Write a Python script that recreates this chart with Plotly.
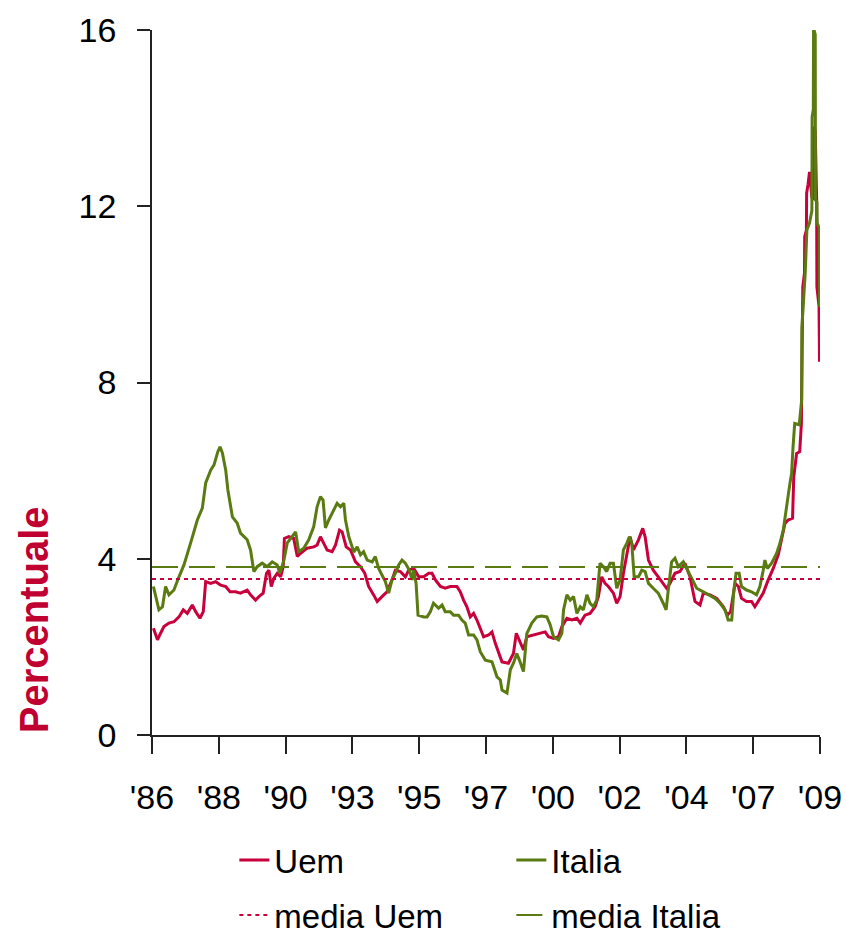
import plotly.graph_objects as go

# months since Jan 1986 (category axis in original: one tick every 28 months)
tick_months = [0, 28, 56, 84, 112, 140, 168, 196, 224, 252, 280]
tick_labels = ["'86", "'88", "'90", "'93", "'95", "'97", "'00", "'02", "'04", "'07", "'09"]

ita_m = [0.6,2.9,4.4,5.7,7.1,9.2,11.3,13.4,16.2,19.0,21.1,22.5,24.6,26.0,27.6,28.5,29.5,30.9,31.8,33.7,35.7,37.1,39.9,41.3,42.7,44.1,46.2,48.3,50.4,52.5,53.6,55.3,56.7,58.8,60.2,61.5,63.6,65.7,67.8,69.2,70.6,71.7,72.7,74.1,75.5,77.6,79.0,80.4,81.1,82.5,84.6,86.0,87.4,88.7,90.2,92.3,93.6,95.0,96.4,97.8,99.2,100.6,102.0,103.4,104.8,106.2,107.9,109.0,109.7,110.7,111.5,113.9,115.3,116.7,118.0,120.1,121.6,122.9,125.0,126.4,128.5,129.9,131.3,132.7,134.8,136.2,137.6,139.7,142.5,144.6,146.0,146.7,148.8,150.2,151.5,152.9,154.0,155.7,157.1,159.2,161.3,163.4,165.5,166.9,168.3,170.4,171.8,172.5,173.9,175.3,176.7,178.1,179.5,180.8,182.3,183.6,185.0,186.4,187.8,189.2,190.6,192.0,193.4,194.8,196.2,197.6,199.0,200.1,201.1,202.1,203.9,205.3,206.7,208.1,210.1,212.2,214.3,215.5,216.4,217.8,219.2,220.6,222.7,224.1,226.2,228.3,231.1,233.2,236.0,238.1,240.2,241.5,243.0,243.9,244.8,246.1,247.1,249.2,251.3,253.4,254.8,256.2,256.9,257.9,259.7,261.8,263.2,264.6,265.3,266.6,267.4,268.1,268.7,269.4,271.3,272.3,272.4,273.1,273.8,274.5,275.6,276.6,276.7,277.2,277.3,278.0,278.1,278.7,278.8,279.7,279.8]
ita_v = [3.37,2.84,2.91,3.37,3.18,3.29,3.59,3.86,4.36,4.88,5.15,5.72,6.01,6.13,6.43,6.54,6.40,6.01,5.56,4.95,4.81,4.58,4.43,4.20,3.71,3.82,3.90,3.82,3.93,3.86,3.67,3.97,4.36,4.50,4.61,4.16,4.24,4.43,4.73,5.18,5.41,5.33,4.70,4.88,5.03,5.26,5.18,5.26,4.88,4.50,4.15,4.27,4.09,4.16,3.97,3.93,4.05,3.78,3.63,3.48,3.22,3.52,3.67,3.86,3.97,3.90,3.74,3.52,3.74,3.44,2.72,2.68,2.68,2.80,2.99,2.88,2.95,2.80,2.80,2.72,2.72,2.61,2.54,2.27,2.27,2.16,1.89,1.70,1.66,1.32,1.25,1.02,0.95,1.48,1.63,1.85,1.70,1.44,2.30,2.54,2.68,2.70,2.68,2.50,2.23,2.16,2.31,2.84,3.18,3.06,3.14,2.76,2.91,2.84,3.18,2.99,2.91,3.06,3.90,3.82,3.71,3.90,3.90,3.33,3.52,4.20,4.35,4.50,4.35,3.59,3.59,3.74,3.71,3.44,3.33,3.22,2.99,2.84,3.29,3.93,4.01,3.82,3.93,3.78,3.52,3.33,3.25,3.18,3.10,2.99,2.84,2.61,2.61,3.29,3.67,3.67,3.37,3.29,3.25,3.18,3.37,3.74,3.97,3.78,3.90,4.12,4.35,4.65,4.88,5.41,5.71,5.94,6.54,7.07,7.04,7.60,9.24,9.84,10.48,11.46,11.62,11.90,14.03,14.20,16.04,15.90,12.14,12.10,11.62,11.50,9.72]

uem_m = [0.6,2.3,3.6,5.0,7.1,9.2,11.3,13.1,14.8,16.9,18.3,20.1,21.5,22.5,24.6,26.7,28.8,30.9,32.7,35.0,37.1,39.9,41.3,43.4,44.8,46.6,48.0,49.0,50.0,51.1,52.5,53.9,55.0,55.5,57.3,59.4,60.9,62.2,65.0,67.8,69.2,70.6,72.0,73.4,75.5,76.9,78.6,79.7,81.4,83.2,85.3,87.4,89.2,90.8,92.9,94.4,96.4,98.5,100.6,102.0,104.1,106.2,107.6,109.7,111.8,113.9,116.0,117.4,118.8,120.9,122.9,125.0,127.8,129.2,130.6,132.0,133.4,134.8,136.2,137.6,139.0,141.1,142.5,143.9,145.3,146.7,149.4,151.5,152.7,154.0,155.7,157.1,159.9,162.7,164.8,166.2,168.3,170.4,171.8,173.9,176.0,178.1,179.5,181.5,183.6,185.7,187.1,188.5,189.9,191.3,193.4,194.8,196.2,197.6,199.0,200.4,201.8,203.9,205.7,206.7,208.1,210.1,212.2,214.3,215.7,217.1,219.2,221.3,223.4,225.5,227.6,229.7,231.1,233.9,236.7,239.5,241.2,242.5,244.4,245.8,247.1,249.2,251.3,252.7,254.1,256.2,258.3,260.4,262.5,263.9,265.3,266.6,268.5,269.0,270.2,271.5,272.2,272.6,272.8,273.5,273.6,274.3,274.4,275.0,275.6,276.6,277.0,277.1,278.0,278.6,278.7,279.6,279.8]
uem_v = [2.42,2.16,2.31,2.46,2.54,2.57,2.68,2.84,2.76,2.95,2.80,2.65,2.80,3.48,3.44,3.48,3.40,3.37,3.25,3.25,3.22,3.29,3.18,3.06,3.14,3.22,3.67,3.74,3.37,3.56,3.67,3.59,3.82,4.46,4.50,4.46,4.05,4.12,4.24,4.27,4.31,4.50,4.35,4.20,4.16,4.31,4.65,4.61,4.27,4.20,3.93,3.82,3.67,3.37,3.18,3.03,3.14,3.25,3.52,3.74,3.71,3.59,3.74,3.78,3.59,3.59,3.67,3.67,3.52,3.37,3.33,3.37,3.37,3.25,3.06,2.91,2.68,2.76,2.61,2.42,2.23,2.27,2.34,2.08,1.85,1.66,1.63,1.85,2.31,2.16,1.93,2.23,2.27,2.31,2.34,2.23,2.19,2.23,2.46,2.65,2.61,2.65,2.54,2.72,2.76,2.91,3.14,3.59,3.44,3.37,3.22,2.99,3.14,3.67,4.05,4.50,4.20,4.43,4.69,4.50,3.97,3.74,3.59,3.44,3.33,3.44,3.67,3.71,3.90,3.59,3.03,2.95,3.22,3.18,3.10,2.91,2.72,2.80,3.44,3.37,3.10,3.03,3.03,2.91,3.03,3.22,3.52,3.78,4.09,4.43,4.80,4.88,4.92,5.86,6.39,6.43,7.07,9.20,10.17,10.48,11.31,11.46,12.30,12.50,12.78,12.20,12.14,13.80,13.70,12.14,10.17,9.72,8.47]

media_uem = 3.54
media_italia = 3.81
mean_span = [0, 280]

assert len(ita_m) == len(ita_v), (len(ita_m), len(ita_v))
assert len(uem_m) == len(uem_v), (len(uem_m), len(uem_v))

RED = "#C8003C"
GREEN = "#5A7A12"
FONT = "Liberation Sans, Arial, sans-serif"

fig = go.Figure()
fig.add_trace(go.Scatter(x=uem_m, y=uem_v, mode="lines", name="Uem", legend="legend",
                         line=dict(color=RED, width=3)))
fig.add_trace(go.Scatter(x=ita_m, y=ita_v, mode="lines", name="Italia", legend="legend",
                         line=dict(color=GREEN, width=3)))
fig.add_trace(go.Scatter(x=mean_span, y=[media_uem, media_uem], mode="lines", name="media Uem",
                         legend="legend2", line=dict(color=RED, width=2, dash="4px,4px")))
fig.add_trace(go.Scatter(x=mean_span, y=[media_italia, media_italia], mode="lines",
                         name="media Italia", legend="legend2",
                         line=dict(color=GREEN, width=2, dash="26px,11px")))

leg_common = dict(orientation="h", xref="container", yref="container",
                  x=0.277, xanchor="left", yanchor="middle",
                  entrywidth=232, entrywidthmode="pixels",
                  font=dict(family=FONT, size=33, color="black"),
                  bgcolor="rgba(0,0,0,0)")

fig.update_layout(
    width=846, height=935,
    margin=dict(l=152, r=26, t=30, b=200, autoexpand=False),
    paper_bgcolor="white", plot_bgcolor="white",
    font=dict(family=FONT, size=34, color="black"),
    showlegend=True,
    legend=dict(y=1 - 860 / 935, **leg_common),
    legend2=dict(y=1 - 915 / 935, **leg_common),
    annotations=[dict(text="<b>Percentuale</b>", textangle=-90, xref="paper", yref="paper",
                      x=-0.177, y=0, xanchor="center", yanchor="bottom", showarrow=False,
                      font=dict(family=FONT, size=40, color="#C00030"))],
)
fig.update_xaxes(range=[0, 280], tickmode="array", tickvals=tick_months, ticktext=tick_labels,
                 showgrid=False, zeroline=False, showline=True, linecolor="#222", linewidth=1.5,
                 ticks="outside", ticklen=17, tickwidth=1.5, tickcolor="#222", automargin=False,
                 ticklabelstandoff=14, tickfont=dict(size=34))
fig.update_yaxes(range=[0, 16], tickmode="array", tickvals=[0, 4, 8, 12, 16],
                 showgrid=False, zeroline=False, showline=True, linecolor="#222", linewidth=1.5,
                 ticks="outside", ticklen=13, tickwidth=1.5, tickcolor="#222", automargin=False,
                 ticklabelstandoff=14, tickfont=dict(size=34))

fig.write_html("out.html", config={"displayModeBar": False},
               post_script="document.body.style.margin='0';")
